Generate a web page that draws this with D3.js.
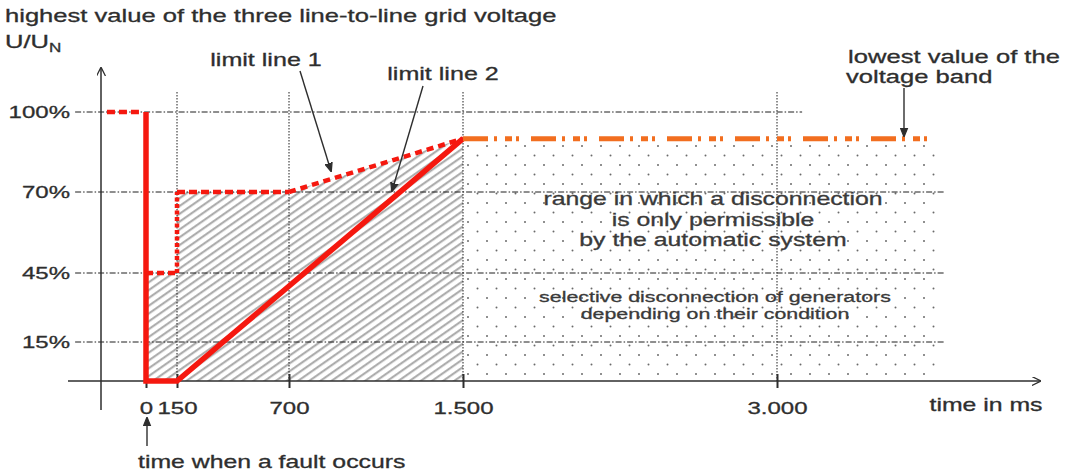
<!DOCTYPE html>
<html>
<head>
<meta charset="utf-8">
<script src="https://cdn.jsdelivr.net/npm/d3@7"></script>
<style>
  html, body { margin: 0; padding: 0; background: #fff; }
  svg { display: block; font-family: "Liberation Sans", Arial, sans-serif; }
</style>
</head>
<body>
<svg id="chart" width="1066" height="474"></svg>
<script>
// ---------------- data ----------------
const timeTicks   = [0, 150, 700, 1500, 3000];
const timeLabels  = ["0", "150", "700", "1.500", "3.000"];
const voltTicks   = [15, 45, 70, 100];
const voltLabels  = ["15%", "45%", "70%", "100%"];
// limit line 1 (dashed): pre-fault level and the curve after the fault
const limitLine1Pre = [[-189, 100], [-29, 100]];
const limitLine1    = [[0, 45], [150, 45], [150, 70], [700, 70], [1500, 90]];
// limit line 2 (solid)
const limitLine2    = [[0, 100], [0, 0], [150, 0], [1500, 90]];
// lowest value of the voltage band
const bandLine      = [[1500, 90], [3740, 90]];
const bandArea      = [[1500, 0], [1500, 90], [3760, 90], [3760, 0]];
// hatched area under limit line 1
const hatchArea     = [[0, 0], ...limitLine1, [1500, 0]];
const regionText1   = ["range in which a disconnection", "is only permissible", "by the automatic system"];
const regionText2   = ["selective disconnection of generators", "depending on their condition"];

// ---------------- layout ----------------
const SX = 1.4;                  // horizontal stretch of the original artwork's text
const FS = 1.55 / SX;            // font-size compensation
const INK = "#2e2e2e";
const RED = "#f5180f";
const ORANGE = "#f26e1f";

const svg = d3.select("#chart");
const x = d3.scaleLinear().domain([0, 150, 700, 1500, 3000]).range([146, 177, 289, 463, 777]);
const y = d3.scaleLinear().domain([0, 15, 45, 70, 100]).range([381, 342, 273, 192, 112]);

const defs = svg.append("defs");
const hatch = defs.append("pattern").attr("id", "hatch")
  .attr("patternUnits", "userSpaceOnUse").attr("width", 12).attr("height", 6.4)
  .attr("patternTransform", "rotate(-35)");
hatch.append("line").attr("x1", 0).attr("x2", 12).attr("y1", 3).attr("y2", 3)
  .attr("stroke", "#a6a6a6").attr("stroke-width", 2);
const dots = defs.append("pattern").attr("id", "dots")
  .attr("patternUnits", "userSpaceOnUse").attr("width", 19).attr("height", 19)
  .attr("x", 463).attr("y", 142);
dots.append("circle").attr("cx", 5).attr("cy", 4).attr("r", 1).attr("fill", "#6a6a6a");
dots.append("circle").attr("cx", 14.5).attr("cy", 13.5).attr("r", 1).attr("fill", "#6a6a6a");

const mk = (id, fill) => {
  const m = defs.append("marker").attr("id", id).attr("viewBox", "0 0 10 10")
    .attr("refX", 9).attr("refY", 5).attr("markerWidth", 9).attr("markerHeight", 9)
    .attr("markerUnits", "userSpaceOnUse").attr("orient", "auto");
  m.append("path").attr("d", fill ? "M0,1 L10,5 L0,9 Z" : "M0,0 L10,5 L0,10")
    .attr("fill", fill ? INK : "none").attr("stroke", INK).attr("stroke-width", 1.4);
};
mk("arrowFill", true);
mk("arrowOpen", false);

const line = d3.line().x(d => x(d[0])).y(d => y(d[1]));

// areas
svg.append("path").attr("d", line(hatchArea) + "Z").attr("fill", "url(#hatch)");
svg.append("path").attr("d", line(bandArea) + "Z").attr("fill", "url(#dots)");

// grid lines
const grid = svg.append("g").attr("stroke", "#1e1e1e").attr("stroke-width", 1).attr("fill", "none");
voltTicks.forEach(v => {
  const tEnd = v === 100 ? 3120 : 3800;
  grid.append("line").attr("x1", x(-343)).attr("x2", x(tEnd))
    .attr("y1", y(v)).attr("y2", y(v)).attr("stroke-dasharray", "6,2,1.5,2");
});
timeTicks.slice(1).forEach(t => {
  grid.append("line").attr("x1", x(t)).attr("x2", x(t))
    .attr("y1", y(107.5)).attr("y2", y(0)).attr("stroke-dasharray", "1.5,1.5");
});

// axes
const xAxis = d3.axisBottom(x).tickValues(timeTicks).tickFormat((d, i) => timeLabels[i])
  .tickSize(7).tickPadding(14);
const gx = svg.append("g").attr("transform", `translate(0,${y(0)})`).call(xAxis);
gx.select(".domain").remove();
gx.selectAll(".tick line").attr("y1", -7).attr("y2", 7).attr("stroke", INK).attr("stroke-width", 2);
gx.selectAll(".tick text").attr("font-size", 15.5 * FS).attr("fill", INK)
  .attr("stroke", INK).attr("stroke-width", 0.3)
  .attr("font-family", "Liberation Sans, Arial, sans-serif")
  .attr("transform", `scale(${SX},1)`);

const yAxis = d3.axisLeft(y).tickValues(voltTicks).tickFormat((d, i) => voltLabels[i])
  .tickSize(0).tickPadding(0);
const gy = svg.append("g").attr("transform", "translate(70,0)").call(yAxis);
gy.select(".domain").remove();
gy.selectAll(".tick line").remove();
gy.selectAll(".tick text").attr("font-size", 15.5 * FS).attr("fill", INK)
  .attr("stroke", INK).attr("stroke-width", 0.3)
  .attr("font-family", "Liberation Sans, Arial, sans-serif")
  .attr("transform", `scale(${SX},1)`);

// axis lines with arrows
svg.append("line").attr("x1", 68).attr("x2", 1040).attr("y1", y(0)).attr("y2", y(0))
  .attr("stroke", INK).attr("stroke-width", 1.5).attr("marker-end", "url(#arrowOpen)");
svg.append("line").attr("x1", 101).attr("x2", 101).attr("y1", 410).attr("y2", 68)
  .attr("stroke", INK).attr("stroke-width", 1.5).attr("marker-end", "url(#arrowOpen)");

// limit line 1 (dashed red)
const seg = (pts, dash) => svg.append("path").attr("d", line(pts)).attr("fill", "none")
  .attr("stroke", RED).attr("stroke-width", 4.5).attr("stroke-dasharray", dash);
seg(limitLine1Pre, "8,4");
seg(limitLine1.slice(0, 2), "7,4");
seg(limitLine1.slice(1, 3), "4,2.5");
seg(limitLine1.slice(2, 4), "8,4");
seg(limitLine1.slice(3, 5), "7,5");

// limit line 2 (solid red)
svg.append("path").attr("d", line(limitLine2)).attr("fill", "none")
  .attr("stroke", RED).attr("stroke-width", 5.5).attr("stroke-linejoin", "miter");

// lowest value of the voltage band (orange dash-dot)
svg.append("path").attr("d", line(bandLine)).attr("fill", "none")
  .attr("stroke", ORANGE).attr("stroke-width", 5)
  .attr("stroke-dasharray", "25,6,3,8,7,4,3,12");

// text helper (stretched horizontally like the original)
function txt(px, py, s, size, anchor, fill) {
  const g = svg.append("g").attr("transform", `translate(${px},${py}) scale(${SX},1)`);
  return g.append("text").attr("text-anchor", anchor || "start")
    .attr("font-size", size * FS).attr("fill", fill || INK)
    .attr("stroke", fill || INK).attr("stroke-width", 0.3).text(s);
}

txt(5, 22, "highest value of the three line-to-line grid voltage", 16.5);
const u = txt(5, 48, "U/U", 16.5);
u.append("tspan").attr("font-size", 11 * FS).attr("dy", 4).text("N");

txt(266, 66, "limit line 1", 16.2, "middle");
txt(443, 80, "limit line 2", 16.2, "middle");
txt(954, 63, "lowest value of the", 16.5, "middle");
txt(846, 83, "voltage band", 16.5, "start");
txt(986, 411, "time in ms", 16, "middle");
txt(138, 468, "time when a fault occurs", 16, "start");

regionText1.forEach((s, i) => txt(713, 205 + i * 20.5, s, 16, "middle", "#3a3a3a"));
regionText2.forEach((s, i) => txt(715, 302 + i * 17, s, 13.8, "middle", "#3a3a3a"));

// annotation arrows
const arrow = (x1, y1, x2, y2) => svg.append("line")
  .attr("x1", x1).attr("y1", y1).attr("x2", x2).attr("y2", y2)
  .attr("stroke", INK).attr("stroke-width", 1.4).attr("marker-end", "url(#arrowFill)");
arrow(300, 71, 331, 171);
arrow(423, 86, 392, 191);
arrow(904, 88, 904, 136);
arrow(147, 446, 147, 418);
</script>
</body>
</html>
